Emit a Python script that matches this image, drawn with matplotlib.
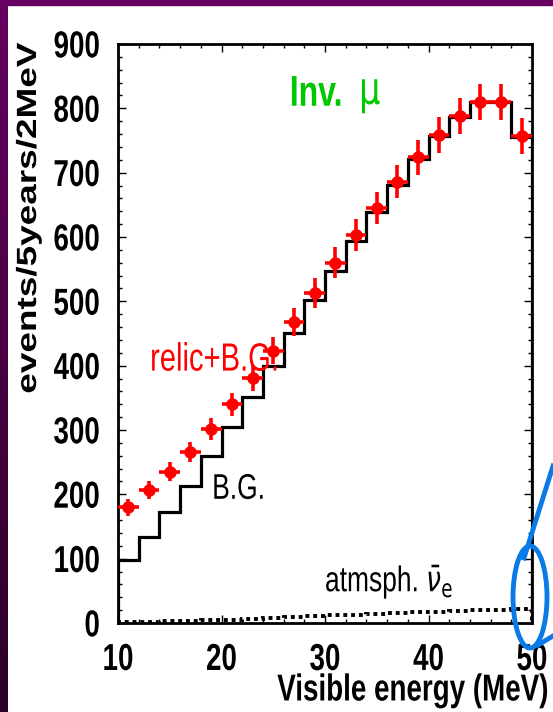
import numpy as np
import matplotlib.pyplot as plt
from matplotlib.patches import Ellipse, Rectangle
from matplotlib.lines import Line2D
from matplotlib.ticker import MultipleLocator
from matplotlib.patheffects import AbstractPathEffect
from matplotlib.transforms import Affine2D


# 2 MeV bins from 10 to 50 MeV
bin_edges = [10, 12, 14, 16, 18, 20, 22, 24, 26, 28, 30,
             32, 34, 36, 38, 40, 42, 44, 46, 48, 50]
bin_centers = [11, 13, 15, 17, 19, 21, 23, 25, 27, 29,
               31, 33, 35, 37, 39, 41, 43, 45, 47, 49]

# background histogram (B.G.)
bg_counts = [98, 134, 173, 213, 260, 305, 352, 400, 451, 502,
             547, 594, 639, 681, 721, 757, 787, 810, 810, 756]

# relic + B.G. points with errors
relic_counts = [180, 207, 235, 266, 302, 340, 381, 423, 468, 513,
                560, 603, 645, 686, 724, 759, 788, 810, 810, 757]
relic_errors = [13, 14, 15, 16, 17, 18, 20, 21, 22, 23,
                24, 25, 25, 26, 27, 28, 28, 28, 28, 28]

# atmospheric anti-nu_e (dotted)
atm_counts = [1.0, 1.8, 2.5, 3.2, 4.0, 5.2, 6.3, 7.6, 9.0, 10.5,
              12.0, 13.2, 14.5, 15.7, 16.8, 17.8, 18.8, 19.8, 20.8, 21.8]

x_ticks = [10, 20, 30, 40, 50]
y_ticks = [0, 100, 200, 300, 400, 500, 600, 700, 800, 900]

W, H = 553, 712
FONT = "Liberation Sans"


class VStretch(AbstractPathEffect):
    """stretch text vertically around its own centre (the slide was squashed)"""

    def __init__(self, sy):
        super().__init__()
        self.sy = sy

    def draw_path(self, renderer, gc, tpath, affine, rgbFace=None):
        ext = tpath.get_extents(affine)
        cy = 0.5 * (ext.y0 + ext.y1)
        aff = affine + Affine2D().translate(0, -cy).scale(1, self.sy).translate(0, cy)
        renderer.draw_path(gc, tpath, aff, rgbFace)


def px(x, y):
    """pixel position (from top left) -> figure fraction"""
    return x / W, 1 - y / H


def draw_frame(fig):
    # purple slide border: gradient strip on the left, flat strip on top
    grad = np.linspace(0, 1, 256).reshape(-1, 1)
    top_c = np.array([0.40, 0.00, 0.38])
    bot_c = np.array([0.17, 0.00, 0.15])
    img = top_c[None, None, :] * (1 - grad[..., None]) + bot_c[None, None, :] * grad[..., None]
    side = fig.add_axes([0, 0, 8 / W, 1])
    side.imshow(img, aspect="auto")
    side.axis("off")
    fig.patches.append(Rectangle((0, 1 - 5 / H), 1, 5 / H, transform=fig.transFigure,
                                 color=(0.40, 0.00, 0.38), zorder=5))


def draw_marker(fig):
    blue = "#0a7be6"
    cx, cy = px(530, 597)
    fig.patches.append(Ellipse((cx, cy), 34 / W, 102 / H, transform=fig.transFigure,
                               fill=False, edgecolor=blue, linewidth=3.5, zorder=10))
    x0, y0 = px(524, 558)
    x1, y1 = px(553, 466)
    fig.lines.append(Line2D([x0, x1], [y0, y1], transform=fig.transFigure,
                            color=blue, linewidth=3.5, zorder=10))
    x0, y0 = px(538, 645)
    x1, y1 = px(553, 636)
    fig.lines.append(Line2D([x0, x1], [y0, y1], transform=fig.transFigure,
                            color=blue, linewidth=3.5, zorder=10))


def main():
    fig = plt.figure(figsize=(W / 100, H / 100), dpi=100)
    fig.patch.set_facecolor("white")
    tall = [VStretch(1.35)]

    l, b = px(118, 623)
    r, t = px(532, 44)
    ax = fig.add_axes([l, b, r - l, t - b])

    ax.stairs(bg_counts, bin_edges, color="black", linewidth=2.3, zorder=2)
    ax.stairs(atm_counts, bin_edges, color="black", linewidth=2.8,
              linestyle=(0, (1, 1)), zorder=2)
    ax.errorbar(bin_centers, relic_counts, xerr=1, yerr=relic_errors,
                fmt="o", color="red", markersize=8, elinewidth=2.6,
                capsize=0, zorder=3, clip_on=False)

    ax.set_xlim(10, 50)
    ax.set_ylim(0, 900)
    ax.set_xticks(x_ticks)
    ax.set_yticks(y_ticks)
    ax.xaxis.set_minor_locator(MultipleLocator(2))
    ax.yaxis.set_minor_locator(MultipleLocator(20))
    ax.tick_params(which="both", direction="in", top=True, right=True, width=1)
    ax.tick_params(which="major", length=6)
    ax.tick_params(which="minor", length=3)
    ax.tick_params(axis="y", pad=13)
    ax.tick_params(axis="x", pad=17)
    for lab in ax.get_xticklabels() + ax.get_yticklabels():
        lab.set_fontfamily(FONT)
        lab.set_fontweight("bold")
        lab.set_fontsize(20)
        lab.set_path_effects(tall)
    for sp in ax.spines.values():
        sp.set_linewidth(2)

    ax.text(26.6, 810, "Inv.", color="#00c800", fontsize=23, fontweight="bold",
            family=FONT, va="baseline", path_effects=tall)
    ax.text(33.3, 810, "μ", color="#00c800", fontsize=24, family="DejaVu Sans",
            va="baseline", path_effects=tall)
    ax.text(13.1, 398, "relic+B.G.", color="red", fontsize=21,
            family=FONT, va="baseline", path_effects=tall)
    ax.text(19.1, 198, "B.G.", color="black", fontsize=19,
            family=FONT, va="baseline", path_effects=tall)
    ax.text(30.0, 53, r"atmsph. $\bar{\nu}_{\rm e}$", color="black", fontsize=19,
            family=FONT, va="baseline", path_effects=tall)

    x, y = px(29, 218)
    fig.text(x, y, "events/5years/2MeV", rotation=90, ha="center", va="center",
             fontsize=20, fontweight="bold", family=FONT,
             path_effects=[VStretch(1.33)])
    x, y = px(548, 691)
    fig.text(x, y, "Visible energy (MeV)", ha="right", va="center",
             fontsize=20, fontweight="bold", family=FONT, path_effects=tall)

    draw_frame(fig)
    draw_marker(fig)

    fig.savefig("out.png", dpi=100)
    plt.close(fig)


if __name__ == "__main__":
    main()
